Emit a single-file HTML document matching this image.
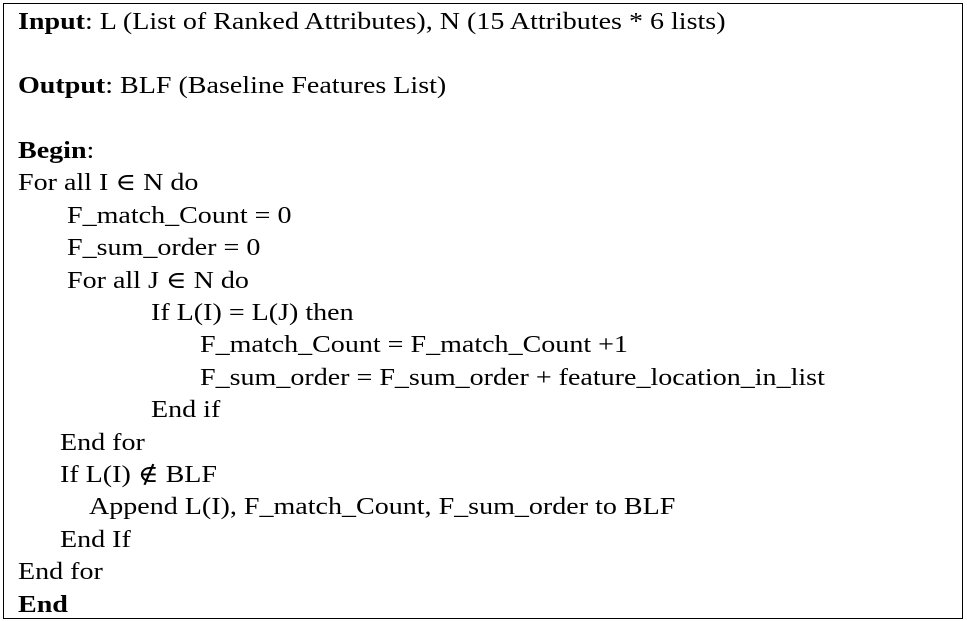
<!DOCTYPE html>
<html>
<head>
<meta charset="utf-8">
<style>
  html, body { margin: 0; padding: 0; background: #fff; }
  body { width: 967px; height: 621px; position: relative; overflow: hidden; }
  .box {
    position: absolute; left: 3px; top: 3px;
    width: 960px; height: 616px; box-sizing: border-box;
    border: 1px solid #000;
  }
  .code {
    position: absolute; left: 0; top: 5.5px; width: 967px;
    font-family: "Liberation Serif", "DejaVu Serif", serif;
    font-size: 24px; line-height: 32.4px; color: #000;
  }
  .code div { white-space: pre; height: 32.4px; }
  .code span { display: inline-block; transform: scaleX(1.168); transform-origin: 0 0; }
  b { font-weight: bold; }
</style>
</head>
<body>
<div class="box"></div>
<div class="code">
  <div style="padding-left:18px"><span><b>Input</b>: L (List of Ranked Attributes), N (15 Attributes * 6 lists)</span></div>
  <div></div>
  <div style="padding-left:18px"><span><b>Output</b>: BLF (Baseline Features List)</span></div>
  <div></div>
  <div style="padding-left:18px"><span><b>Begin</b>:</span></div>
  <div style="padding-left:18px"><span>For all I ∈ N do</span></div>
  <div style="padding-left:67px"><span>F_match_Count = 0</span></div>
  <div style="padding-left:67px"><span>F_sum_order = 0</span></div>
  <div style="padding-left:67px"><span>For all J ∈ N do</span></div>
  <div style="padding-left:151px"><span>If L(I) = L(J) then</span></div>
  <div style="padding-left:200px"><span>F_match_Count = F_match_Count +1</span></div>
  <div style="padding-left:200px"><span>F_sum_order = F_sum_order + feature_location_in_list</span></div>
  <div style="padding-left:151px"><span>End if</span></div>
  <div style="padding-left:60px"><span>End for</span></div>
  <div style="padding-left:60px"><span>If L(I) ∉ BLF</span></div>
  <div style="padding-left:89px"><span>Append L(I), F_match_Count, F_sum_order to BLF</span></div>
  <div style="padding-left:60px"><span>End If</span></div>
  <div style="padding-left:18px"><span>End for</span></div>
  <div style="padding-left:18px"><span><b>End</b></span></div>
</div>
</body>
</html>
